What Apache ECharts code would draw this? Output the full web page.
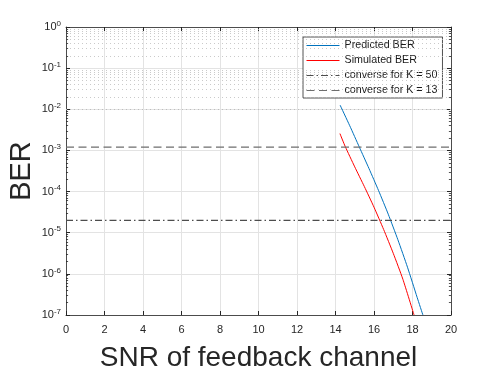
<!DOCTYPE html>
<html>
<head>
<meta charset="utf-8">
<script src="https://cdn.jsdelivr.net/npm/echarts@6/dist/echarts.min.js"></script>
<style>
  html, body { margin: 0; padding: 0; background: #fff; }
  #chart { width: 498px; height: 374px; }
</style>
</head>
<body>
<div id="chart"></div>
<script>
// values
const snrPredicted = [14.24, 14.74, 15.24, 15.74, 16.24, 16.74, 17.24, 17.74, 18.24, 18.54]
const berPredicted = [1.26e-2, 3.98e-3, 1.2e-3, 3.63e-4, 1.05e-4, 2.82e-5, 6.76e-6, 1.45e-6, 2.69e-7, 1e-7]
const snrSimulated = [14.23, 14.5, 15.0, 15.5, 16.0, 16.5, 17.0, 17.5, 18.08]
const berSimulated = [2.57e-3, 1.26e-3, 3.98e-4, 1.32e-4, 4.17e-5, 1.2e-5, 3.16e-6, 7.4e-7, 1e-7]
const converseK50 = 2e-5
const converseK13 = 1.2e-3
const snrRange = [0, 20]
const berRange = [1e-7, 1]
const seriesNames = ['Predicted BER', 'Simulated BER', 'converse for K = 50', 'converse for K = 13']

const font = 'Liberation Sans, Arial, Helvetica, sans-serif'
const ink = '#262626'

// minor log grid at 2..9 x 10^k
const minorValues = []
for (let k = -7; k < 0; k++) {
  for (let d = 2; d <= 9; d++) minorValues.push(d * Math.pow(10, k))
}

const zip = (xs, ys) => xs.map((x, i) => [x, ys[i]])

const option = {
  backgroundColor: '#fff',
  animation: false,
  grid: { left: 66, right: 47, top: 27, bottom: 59, outerBoundsMode: 'none', containLabel: false },
  legend: {
    data: seriesNames,
    orient: 'vertical',
    left: 303,
    top: 37,
    itemWidth: 33,
    itemHeight: 10,
    itemGap: 2,
    padding: [2, 5, 1, 3],
    backgroundColor: '#fff',
    borderColor: ink,
    borderWidth: 0.8,
    itemStyle: { opacity: 0 },
    lineStyle: { width: 1 },
    textStyle: { fontFamily: font, fontSize: 10.7, color: '#1a1a1a', lineHeight: 13 },
  },
  xAxis: [
    {
      type: 'value',
      min: snrRange[0],
      max: snrRange[1],
      interval: 2,
      name: 'SNR of feedback channel',
      nameLocation: 'middle',
      nameGap: 29,
      nameMoveOverlap: false,
      nameTextStyle: { fontFamily: font, fontSize: 28, color: ink },
      axisLine: { onZero: false, lineStyle: { color: ink, width: 0.8 } },
      axisTick: { inside: true, length: 4, lineStyle: { color: ink } },
      axisLabel: { fontFamily: font, fontSize: 11, color: ink, margin: 9 },
      splitLine: { show: true, lineStyle: { color: '#e3e3e3', width: 1 } },
    },
    {
      type: 'value',
      position: 'top',
      min: snrRange[0],
      max: snrRange[1],
      interval: 2,
      axisLine: { onZero: false, lineStyle: { color: ink, width: 0.8 } },
      axisTick: { inside: true, length: 4, lineStyle: { color: ink } },
      axisLabel: { show: false },
      splitLine: { show: false },
    },
  ],
  yAxis: [
    {
      type: 'log',
      logBase: 10,
      min: berRange[0],
      max: berRange[1],
      splitNumber: 7,
      name: 'BER',
      nameLocation: 'middle',
      nameGap: 30,
      nameMoveOverlap: false,
      nameTextStyle: { fontFamily: font, fontSize: 29, color: ink },
      axisLine: { onZero: false, lineStyle: { color: ink, width: 0.8 } },
      axisTick: { inside: true, length: 4, lineStyle: { color: ink } },
      axisLabel: {
        margin: 5,
        formatter: (v) => '{b|10}{e|' + Math.round(Math.log10(v)) + '}',
        rich: {
          b: { fontFamily: font, fontSize: 11, color: ink },
          e: { fontFamily: font, fontSize: 8, color: ink, verticalAlign: 'bottom', padding: [0, 0, 7, 0] },
        },
      },
      splitLine: { show: true, lineStyle: { color: '#e3e3e3', width: 1 } },
    },
    {
      type: 'log',
      logBase: 10,
      position: 'right',
      min: berRange[0],
      max: berRange[1],
      splitNumber: 7,
      axisLine: { onZero: false, lineStyle: { color: ink, width: 0.8 } },
      axisTick: { inside: true, length: 4, lineStyle: { color: ink } },
      axisLabel: { show: false },
      splitLine: { show: false },
    },
  ],
  series: [
    {
      name: 'minor-grid',
      type: 'line',
      data: [],
      silent: true,
      z: 1,
      markLine: {
        silent: true,
        symbol: 'none',
        label: { show: false },
        lineStyle: { color: '#bcbcbc', width: 0.8, type: [1, 3] },
        data: minorValues.map((v) => ({ yAxis: v })),
      },
    },
    {
      name: 'minor-ticks',
      type: 'line',
      data: [],
      silent: true,
      z: 3,
      markLine: {
        silent: true,
        symbol: 'none',
        label: { show: false },
        lineStyle: { color: ink, width: 0.8, type: 'solid' },
        data: minorValues.flatMap((v) => [
          [{ coord: [snrRange[0], v] }, { coord: [snrRange[0] + 0.11, v] }],
          [{ coord: [snrRange[1] - 0.11, v] }, { coord: [snrRange[1], v] }],
        ]),
      },
    },
    {
      name: seriesNames[0],
      type: 'line',
      data: zip(snrPredicted, berPredicted),
      symbol: 'none',
      smooth: 0.2,
      color: '#0072BD',
      lineStyle: { color: '#0072BD', width: 1 },
      z: 5,
    },
    {
      name: seriesNames[1],
      type: 'line',
      data: zip(snrSimulated, berSimulated),
      symbol: 'none',
      smooth: 0.2,
      color: '#FF0000',
      lineStyle: { color: '#FF0000', width: 1 },
      z: 5,
    },
    {
      name: seriesNames[2],
      type: 'line',
      data: zip(snrRange, [converseK50, converseK50]),
      symbol: 'none',
      color: '#4d4d4d',
      lineStyle: { color: '#4d4d4d', width: 1.1, type: [7, 3, 1.5, 3] },
      z: 6,
    },
    {
      name: seriesNames[3],
      type: 'line',
      data: zip(snrRange, [converseK13, converseK13]),
      symbol: 'none',
      color: '#6e6e6e',
      lineStyle: { color: '#6e6e6e', width: 1.3, type: [8, 4.5] },
      z: 6,
    },
  ],
}

const chartObj = echarts.init(document.getElementById('chart'), null, { renderer: 'canvas' })
chartObj.setOption(option)
</script>
</body>
</html>
